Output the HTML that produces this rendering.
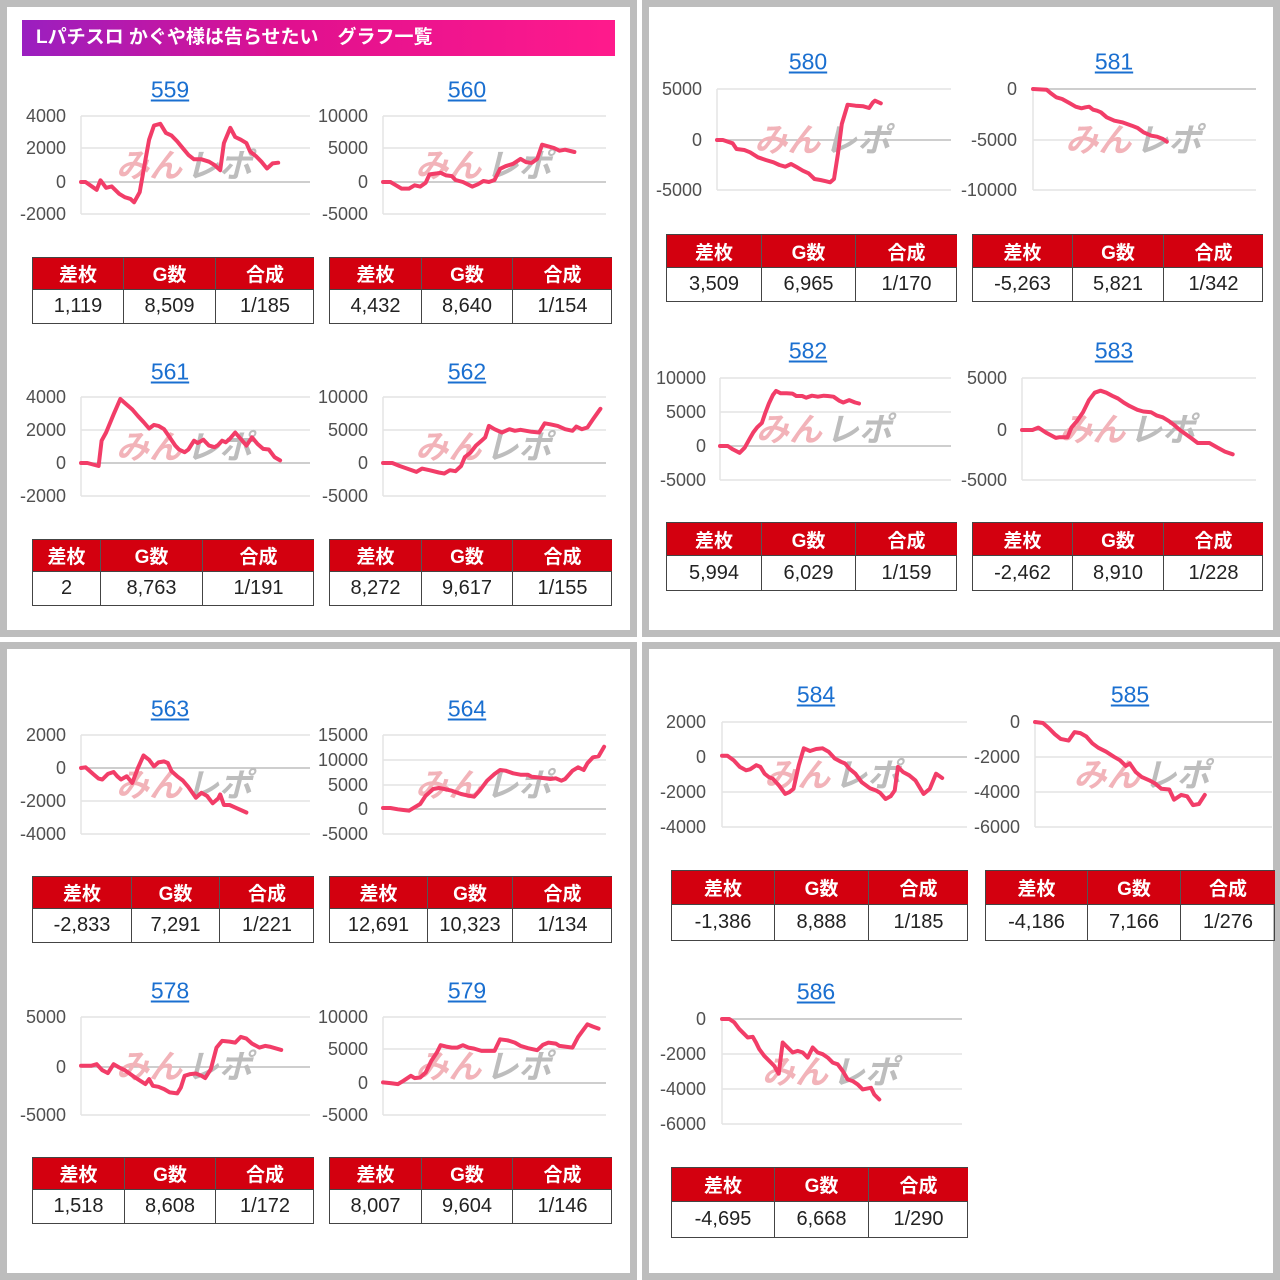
<!DOCTYPE html>
<html><head><meta charset="utf-8">
<style>
*{margin:0;padding:0;box-sizing:border-box}
body{width:1280px;height:1280px;background:#fff;position:relative;overflow:hidden;font-family:"Liberation Sans","Noto Sans CJK JP",sans-serif}
.q{position:absolute;border:7px solid #bdbdbd;background:#fff}
.hdr{position:absolute;left:22px;top:20px;width:593px;height:36px;background:linear-gradient(90deg,#9a1fc0,#e0108f 45%,#ff1a8c);color:#fff;font-weight:bold;font-size:19px;line-height:36px;padding-left:14px}
.t{position:absolute;color:#1a6fd0;text-decoration:underline;font-size:23px;transform:translate(-50%,-50%);line-height:1}
.l{position:absolute;color:#505050;font-size:18px;transform:translate(-100%,-50%);line-height:1}
.tb{position:absolute;border:1px solid #444;display:grid}
.tb div{display:flex;align-items:center;justify-content:center;border-right:1px solid #444}
.tb div.r{border-right:none}
.tb .h{background:#d3000f;color:#fff;font-weight:bold;font-size:19px;border-right-color:#555}
.tb .v{color:#222;font-size:20px;border-top:1px solid #444}
svg{position:absolute;left:0;top:0}
</style></head><body>
<div class="q" style="left:0;top:0;width:637px;height:637px"></div>
<div class="q" style="left:642px;top:0;width:638px;height:637px"></div>
<div class="q" style="left:0;top:642px;width:637px;height:638px"></div>
<div class="q" style="left:642px;top:642px;width:638px;height:638px"></div>
<div class="hdr">Lパチスロ かぐや様は告らせたい　グラフ一覧</div>

<svg id="sv" width="1280" height="1280"></svg>

<div class="t" style="left:170px;top:90px">559</div>
<div class="t" style="left:467px;top:90px">560</div>
<div class="t" style="left:170px;top:372px">561</div>
<div class="t" style="left:467px;top:372px">562</div>
<div class="t" style="left:170px;top:709px">563</div>
<div class="t" style="left:467px;top:709px">564</div>
<div class="t" style="left:170px;top:991px">578</div>
<div class="t" style="left:467px;top:991px">579</div>
<div class="t" style="left:808px;top:62px">580</div>
<div class="t" style="left:1114px;top:62px">581</div>
<div class="t" style="left:808px;top:351px">582</div>
<div class="t" style="left:1114px;top:351px">583</div>
<div class="t" style="left:816px;top:695px">584</div>
<div class="t" style="left:1130px;top:695px">585</div>
<div class="t" style="left:816px;top:992px">586</div>

<div class="l" style="left:66px;top:116px">4000</div><div class="l" style="left:66px;top:148px">2000</div><div class="l" style="left:66px;top:182px">0</div><div class="l" style="left:66px;top:214px">-2000</div>
<div class="l" style="left:368px;top:116px">10000</div><div class="l" style="left:368px;top:148px">5000</div><div class="l" style="left:368px;top:182px">0</div><div class="l" style="left:368px;top:214px">-5000</div>
<div class="l" style="left:66px;top:397px">4000</div><div class="l" style="left:66px;top:430px">2000</div><div class="l" style="left:66px;top:463px">0</div><div class="l" style="left:66px;top:496px">-2000</div>
<div class="l" style="left:368px;top:397px">10000</div><div class="l" style="left:368px;top:430px">5000</div><div class="l" style="left:368px;top:463px">0</div><div class="l" style="left:368px;top:496px">-5000</div>
<div class="l" style="left:66px;top:735px">2000</div><div class="l" style="left:66px;top:768px">0</div><div class="l" style="left:66px;top:801px">-2000</div><div class="l" style="left:66px;top:834px">-4000</div>
<div class="l" style="left:368px;top:735px">15000</div><div class="l" style="left:368px;top:760px">10000</div><div class="l" style="left:368px;top:785px">5000</div><div class="l" style="left:368px;top:809px">0</div><div class="l" style="left:368px;top:834px">-5000</div>
<div class="l" style="left:66px;top:1017px">5000</div><div class="l" style="left:66px;top:1067px">0</div><div class="l" style="left:66px;top:1115px">-5000</div>
<div class="l" style="left:368px;top:1017px">10000</div><div class="l" style="left:368px;top:1049px">5000</div><div class="l" style="left:368px;top:1083px">0</div><div class="l" style="left:368px;top:1115px">-5000</div>
<div class="l" style="left:702px;top:89px">5000</div><div class="l" style="left:702px;top:140px">0</div><div class="l" style="left:702px;top:190px">-5000</div>
<div class="l" style="left:1017px;top:89px">0</div><div class="l" style="left:1017px;top:140px">-5000</div><div class="l" style="left:1017px;top:190px">-10000</div>
<div class="l" style="left:706px;top:378px">10000</div><div class="l" style="left:706px;top:412px">5000</div><div class="l" style="left:706px;top:446px">0</div><div class="l" style="left:706px;top:480px">-5000</div>
<div class="l" style="left:1007px;top:378px">5000</div><div class="l" style="left:1007px;top:430px">0</div><div class="l" style="left:1007px;top:480px">-5000</div>
<div class="l" style="left:706px;top:722px">2000</div><div class="l" style="left:706px;top:757px">0</div><div class="l" style="left:706px;top:792px">-2000</div><div class="l" style="left:706px;top:827px">-4000</div>
<div class="l" style="left:1020px;top:722px">0</div><div class="l" style="left:1020px;top:757px">-2000</div><div class="l" style="left:1020px;top:792px">-4000</div><div class="l" style="left:1020px;top:827px">-6000</div>
<div class="l" style="left:706px;top:1019px">0</div><div class="l" style="left:706px;top:1054px">-2000</div><div class="l" style="left:706px;top:1089px">-4000</div><div class="l" style="left:706px;top:1124px">-6000</div>

<div class="tb" style="left:32px;top:257px;width:282px;height:67px;grid-template-columns:91px 92px 98px;grid-template-rows:31px 1fr"><div class="h">差枚</div><div class="h">G数</div><div class="h r">合成</div><div class="v">1,119</div><div class="v">8,509</div><div class="v r">1/185</div></div>
<div class="tb" style="left:329px;top:257px;width:283px;height:67px;grid-template-columns:92px 91px 99px;grid-template-rows:31px 1fr"><div class="h">差枚</div><div class="h">G数</div><div class="h r">合成</div><div class="v">4,432</div><div class="v">8,640</div><div class="v r">1/154</div></div>
<div class="tb" style="left:32px;top:539px;width:282px;height:67px;grid-template-columns:68px 102px 111px;grid-template-rows:31px 1fr"><div class="h">差枚</div><div class="h">G数</div><div class="h r">合成</div><div class="v">2</div><div class="v">8,763</div><div class="v r">1/191</div></div>
<div class="tb" style="left:329px;top:539px;width:283px;height:67px;grid-template-columns:92px 91px 99px;grid-template-rows:31px 1fr"><div class="h">差枚</div><div class="h">G数</div><div class="h r">合成</div><div class="v">8,272</div><div class="v">9,617</div><div class="v r">1/155</div></div>
<div class="tb" style="left:32px;top:876px;width:282px;height:67px;grid-template-columns:99px 88px 94px;grid-template-rows:31px 1fr"><div class="h">差枚</div><div class="h">G数</div><div class="h r">合成</div><div class="v">-2,833</div><div class="v">7,291</div><div class="v r">1/221</div></div>
<div class="tb" style="left:329px;top:876px;width:283px;height:67px;grid-template-columns:98px 85px 99px;grid-template-rows:31px 1fr"><div class="h">差枚</div><div class="h">G数</div><div class="h r">合成</div><div class="v">12,691</div><div class="v">10,323</div><div class="v r">1/134</div></div>
<div class="tb" style="left:32px;top:1157px;width:282px;height:67px;grid-template-columns:92px 91px 98px;grid-template-rows:31px 1fr"><div class="h">差枚</div><div class="h">G数</div><div class="h r">合成</div><div class="v">1,518</div><div class="v">8,608</div><div class="v r">1/172</div></div>
<div class="tb" style="left:329px;top:1157px;width:283px;height:67px;grid-template-columns:92px 91px 99px;grid-template-rows:31px 1fr"><div class="h">差枚</div><div class="h">G数</div><div class="h r">合成</div><div class="v">8,007</div><div class="v">9,604</div><div class="v r">1/146</div></div>
<div class="tb" style="left:666px;top:234px;width:291px;height:68px;grid-template-columns:95px 94px 101px;grid-template-rows:32px 1fr"><div class="h">差枚</div><div class="h">G数</div><div class="h r">合成</div><div class="v">3,509</div><div class="v">6,965</div><div class="v r">1/170</div></div>
<div class="tb" style="left:972px;top:234px;width:291px;height:68px;grid-template-columns:100px 91px 99px;grid-template-rows:32px 1fr"><div class="h">差枚</div><div class="h">G数</div><div class="h r">合成</div><div class="v">-5,263</div><div class="v">5,821</div><div class="v r">1/342</div></div>
<div class="tb" style="left:666px;top:522px;width:291px;height:69px;grid-template-columns:95px 94px 101px;grid-template-rows:32px 1fr"><div class="h">差枚</div><div class="h">G数</div><div class="h r">合成</div><div class="v">5,994</div><div class="v">6,029</div><div class="v r">1/159</div></div>
<div class="tb" style="left:972px;top:522px;width:291px;height:69px;grid-template-columns:100px 91px 99px;grid-template-rows:32px 1fr"><div class="h">差枚</div><div class="h">G数</div><div class="h r">合成</div><div class="v">-2,462</div><div class="v">8,910</div><div class="v r">1/228</div></div>
<div class="tb" style="left:671px;top:870px;width:297px;height:71px;grid-template-columns:103px 94px 99px;grid-template-rows:33px 1fr"><div class="h">差枚</div><div class="h">G数</div><div class="h r">合成</div><div class="v">-1,386</div><div class="v">8,888</div><div class="v r">1/185</div></div>
<div class="tb" style="left:985px;top:870px;width:290px;height:71px;grid-template-columns:102px 93px 94px;grid-template-rows:33px 1fr"><div class="h">差枚</div><div class="h">G数</div><div class="h r">合成</div><div class="v">-4,186</div><div class="v">7,166</div><div class="v r">1/276</div></div>
<div class="tb" style="left:671px;top:1167px;width:297px;height:71px;grid-template-columns:103px 94px 99px;grid-template-rows:33px 1fr"><div class="h">差枚</div><div class="h">G数</div><div class="h r">合成</div><div class="v">-4,695</div><div class="v">6,668</div><div class="v r">1/290</div></div>

<script>
var C=[
{ax:81,ex:310,g:[116,148,182,214],z:182,c:[113,725,50,116,245,182],p:[[113,245],[125,245],[155,268],[165,240],[180,262],[195,258],[215,280],[230,290],[245,295],[255,305],[270,275],[285,180],[295,120],[308,78],[325,73],[340,100],[355,108],[370,125],[385,145],[400,165],[415,178],[435,178],[455,185],[470,195],[485,210],[495,130],[512,85],[525,112],[540,120],[555,130],[565,155],[580,168],[595,185],[610,205],[625,190],[640,188]]},
{ax:383,ex:606,g:[116,148,182,214],z:182,c:[930,1530,48,116,248,182],p:[[930,248],[950,248],[965,258],[980,268],[1000,268],[1015,258],[1030,262],[1045,250],[1055,225],[1075,222],[1085,220],[1100,228],[1115,230],[1125,242],[1145,248],[1170,262],[1185,255],[1200,245],[1215,248],[1230,242],[1245,208],[1260,200],[1280,193],[1300,178],[1315,188],[1330,190],[1345,178],[1358,135],[1375,140],[1390,145],[1405,153],[1420,150],[1445,157]]},
{ax:81,ex:310,g:[397,430,463,496],z:463,c:[113,725,52,397,253,463],p:[[113,253],[130,253],[160,262],[168,185],[180,160],[200,105],[218,58],[235,75],[250,90],[265,110],[280,128],[295,148],[308,137],[320,140],[335,150],[350,175],[365,200],[375,212],[390,220],[400,212],[415,185],[425,192],[440,182],[455,200],[470,205],[480,198],[490,185],[500,190],[510,180],[525,160],[540,180],[555,200],[570,175],[585,195],[600,210],[615,212],[630,235],[645,245]]},
{ax:383,ex:606,g:[397,430,463,496],z:463,c:[930,1530,52,397,253,463],p:[[930,253],[955,253],[975,262],[995,270],[1020,280],[1035,270],[1055,275],[1080,282],[1095,285],[1110,275],[1125,278],[1140,262],[1150,235],[1165,222],[1180,200],[1195,185],[1205,175],[1215,140],[1230,150],[1250,160],[1270,150],[1285,155],[1300,152],[1315,155],[1330,158],[1350,160],[1365,132],[1380,135],[1400,140],[1420,150],[1440,155],[1450,142],[1465,150],[1480,145],[1495,120],[1515,88]]},
{ax:81,ex:310,g:[735,768,801,834],z:768,c:[113,725,130,768,330,834],p:[[113,130],[125,128],[145,148],[160,162],[170,165],[185,148],[200,142],[210,155],[220,165],[235,155],[250,175],[265,130],[280,92],[295,105],[308,125],[320,113],[335,110],[345,115],[355,140],[370,155],[385,168],[400,188],[420,220],[435,205],[450,215],[465,237],[480,222],[485,210],[495,242],[510,242],[530,252],[555,265]]},
{ax:383,ex:606,g:[735,760,785,809,834],z:809,c:[930,1530,33,735,330,834],p:[[930,252],[950,252],[970,256],[985,258],[1000,260],[1015,250],[1030,240],[1045,215],[1065,195],[1080,192],[1095,195],[1115,200],[1140,210],[1160,215],[1175,218],[1190,200],[1210,170],[1230,150],[1245,138],[1260,140],[1280,148],[1300,152],[1320,152],[1330,158],[1345,160],[1360,162],[1380,165],[1395,163],[1410,170],[1420,165],[1440,140],[1455,130],[1470,138],[1480,118],[1495,100],[1510,97],[1525,68]]},
{ax:81,ex:310,g:[1017,1067,1115],z:1067,c:[113,725,38,1017,333,1115],p:[[113,185],[140,185],[155,180],[170,198],[185,207],[200,180],[215,190],[230,198],[245,210],[260,222],[285,240],[295,225],[305,245],[320,248],[335,255],[350,265],[370,268],[380,250],[390,215],[405,210],[420,208],[435,215],[445,222],[460,195],[475,130],[490,110],[510,112],[525,115],[540,98],[555,103],[570,118],[590,130],[605,125],[620,128],[648,137]]},
{ax:383,ex:606,g:[1017,1049,1083,1115],z:1083,c:[930,1530,38,1017,333,1115],p:[[930,235],[950,237],[970,240],[985,230],[1005,215],[1015,222],[1030,220],[1045,205],[1060,170],[1075,145],[1085,123],[1100,127],[1115,130],[1130,130],[1145,123],[1160,130],[1175,133],[1195,140],[1210,140],[1230,140],[1245,105],[1265,108],[1285,115],[1300,125],[1320,132],[1345,138],[1360,122],[1375,115],[1395,118],[1405,125],[1420,127],[1440,130],[1455,98],[1470,75],[1480,60],[1495,67],[1510,73]]},
{ax:717,ex:951,g:[89,140,190],z:140,c:[175,775,45,89,198,140],p:[[175,198],[190,198],[215,208],[225,225],[245,228],[260,235],[280,250],[300,258],[320,265],[335,273],[350,278],[365,270],[380,280],[395,290],[410,298],[425,315],[440,318],[455,322],[465,325],[475,315],[485,240],[495,150],[510,92],[530,95],[550,97],[565,102],[575,85],[580,80],[595,88]]},
{ax:1033,ex:1256,g:[89,140,190],z:89,c:[985,1560,45,89,198,140],p:[[985,45],[1020,47],[1030,57],[1045,70],[1060,75],[1080,88],[1095,98],[1110,103],[1120,100],[1130,98],[1140,107],[1150,110],[1160,115],[1175,130],[1195,140],[1215,145],[1240,155],[1255,162],[1270,175],[1290,185],[1305,188],[1320,195],[1330,203]]},
{ax:720,ex:951,g:[378,412,446,480],z:446,c:[185,775,45,378,245,446],p:[[185,245],[205,245],[218,255],[235,265],[248,250],[260,225],[270,205],[280,190],[292,177],[300,150],[310,120],[320,95],[328,83],[340,90],[355,90],[370,91],[380,98],[395,98],[405,103],[420,97],[435,100],[450,97],[460,98],[475,100],[490,112],[500,117],[515,110],[530,117],[540,120]]},
{ax:1022,ex:1256,g:[378,430,480],z:430,c:[958,1560,45,378,197,430],p:[[958,197],[985,197],[1000,190],[1020,205],[1045,220],[1055,218],[1075,218],[1085,190],[1100,170],[1115,145],[1130,110],[1145,88],[1160,82],[1175,88],[1190,97],[1205,105],[1220,117],[1235,127],[1255,138],[1270,143],[1290,145],[1305,155],[1320,160],[1335,170],[1350,183],[1365,198],[1380,210],[1395,222],[1410,235],[1440,235],[1460,248],[1480,260],[1500,268]]},
{ax:722,ex:967,g:[722,757,792,827],z:757,c:[182,775,42,722,353,827],p:[[182,142],[195,142],[210,155],[225,175],[240,185],[250,182],[265,170],[275,175],[285,195],[295,205],[305,210],[320,230],[335,255],[345,250],[355,240],[368,170],[380,120],[395,128],[410,122],[425,120],[440,130],[455,150],[470,160],[480,165],[490,180],[505,195],[520,220],[540,238],[555,245],[565,252],[578,270],[590,262],[600,245],[608,175],[620,190],[635,200],[650,215],[660,235],[670,255],[685,240],[700,195],[715,208]]},
{ax:1035,ex:1272,g:[722,757,792,827],z:722,c:[960,1560,42,722,353,827],p:[[960,42],[980,45],[995,60],[1010,78],[1025,92],[1045,97],[1060,72],[1075,75],[1090,85],[1105,105],[1120,118],[1140,130],[1160,145],[1175,155],[1190,172],[1200,165],[1215,190],[1230,205],[1250,215],[1265,225],[1280,240],[1300,242],[1312,272],[1330,258],[1345,262],[1360,288],[1375,285],[1390,258]]},
{ax:722,ex:962,g:[1019,1054,1089,1124],z:1019,c:[218,938,45,1019,358,1124],p:[[218,45],[240,45],[255,55],[270,75],[285,90],[295,100],[310,98],[320,115],[330,135],[345,155],[360,170],[375,185],[388,208],[400,115],[415,130],[430,145],[445,140],[460,145],[475,160],[490,130],[505,145],[520,150],[535,160],[550,175],[565,180],[580,200],[595,225],[610,230],[625,240],[640,255],[655,252],[665,250],[675,270],[690,285]]}
];
var s='';
C.forEach(function(o){
  var g=o.g;
  g.forEach(function(y){s+='<line x1="'+o.ax+'" y1="'+y+'" x2="'+o.ex+'" y2="'+y+'" stroke="'+(y==o.z?'#bdbdbd':'#e4e4e4')+'" stroke-width="1.5"/>';});
  s+='<line x1="'+o.ax+'" y1="'+g[0]+'" x2="'+o.ax+'" y2="'+g[g.length-1]+'" stroke="#e4e4e4" stroke-width="1.5"/>';
  var cx=o.ax+(o.ex-o.ax)*0.45, cy=(g[0]+g[g.length-1])/2;
  s+='<g transform="translate('+cx+','+(cy+12)+') skewX(-14)" font-family="Liberation Sans,Noto Sans CJK JP,sans-serif" font-weight="bold" font-size="33"><text x="-2" text-anchor="end" fill="#f2b3b9">みん</text><text x="2" text-anchor="start" fill="#bdbdbd">レポ</text></g>';
  var c=o.c,pts=o.p.map(function(p){
    var x=o.ax+(p[0]-c[0])*(o.ex-o.ax)/(c[1]-c[0]);
    var y=c[3]+(p[1]-c[2])*(c[5]-c[3])/(c[4]-c[2]);
    return x.toFixed(1)+','+y.toFixed(1);}).join(' ');
  s+='<polyline points="'+pts+'" fill="none" stroke="#f23d68" stroke-width="4" stroke-linejoin="round" stroke-linecap="round"/>';
});
document.getElementById('sv').innerHTML=s;
</script>
</body></html>
